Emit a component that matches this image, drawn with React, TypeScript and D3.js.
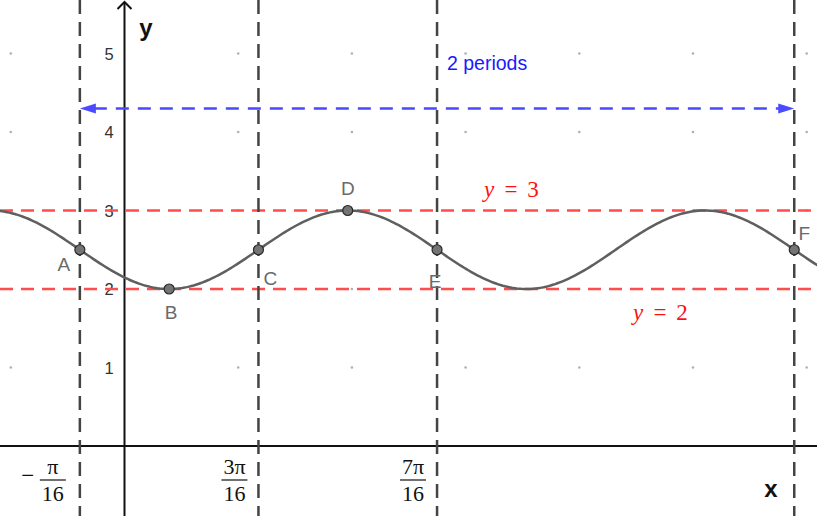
import * as d3 from 'd3'

// key points on the curve, x in multiples of pi/16
const pointNames = ['A', 'B', 'C', 'D', 'E', 'F']
const pointXSixteenths = [-1, 1, 3, 5, 7, 15]
const pointY = [2.5, 2, 2.5, 3, 2.5, 2.5]

// curve y = mid + amp * cos(4 (x - xPeak))
const midline = 2.5
const amplitude = 0.5
const angularFreq = 4
const peakSixteenths = 5

// vertical guides (pi/16 multiples) and their tick labels
const guideSixteenths = [-1, 3, 7, 15]
const tickNumerators = ['π', '3π', '7π']
const tickSigns = ['−', '', '']
const tickSixteenths = [-1, 3, 7]

const yTicks = [1, 2, 3, 4, 5]
const boundLines = [3, 2]
const boundLabelPos: [number, number][] = [[489, 197], [638, 320]]
const gridX = [-0.5, 0.5, 1, 1.5, 2, 2.5, 3]
const gridY = [1, 2, 3, 4, 5]

const W = 817
const H = 516

export default function App() {
  const x = d3.scaleLinear().domain([0, 1]).range([124.5, 124.5 + 227.4])
  const y = d3.scaleLinear().domain([0, 1]).range([446, 446 - 78.5])
  const s16 = (k: number) => (k * Math.PI) / 16

  const xs = d3.range(x.invert(-2), x.invert(W + 2), 0.01)
  const f = (t: number) => midline + amplitude * Math.cos(angularFreq * (t - s16(peakSixteenths)))
  const line = d3.line<number>().x(t => x(t)).y(t => y(f(t)))

  const labelOffsets: [number, number][] = [[-16, 21], [2, 30], [12, 35], [0, -16], [-2, 38], [10, -10]]

  const arrowY = y(4.3)
  const ax1 = x(s16(-1))
  const ax2 = x(s16(15))
  const sans = 'Arial, Liberation Sans, sans-serif'
  const serif = 'Liberation Serif, DejaVu Serif, serif'

  return (
    <svg width={W} height={H} style={{ position: 'absolute', left: 0, top: 0, background: '#fff' }}>
      {/* grid dots */}
      {gridX.map(gx => gridY.map(gy => (
        <circle key={`${gx}-${gy}`} cx={x(gx)} cy={y(gy)} r={1.3} fill="#b0b0b0" />
      )))}

      {/* axes */}
      <line x1={0} x2={W} y1={y(0)} y2={y(0)} stroke="#111" strokeWidth={2} />
      <line x1={x(0)} x2={x(0)} y1={2} y2={H} stroke="#111" strokeWidth={2} />
      <path d={`M${x(0) - 7},${9} L${x(0)},${2} L${x(0) + 7},${9}`} fill="none" stroke="#111" strokeWidth={2} />
      <text x={146} y={36} fontFamily={sans} fontWeight="bold" fontSize={24} textAnchor="middle" fill="#111">y</text>
      <text x={771} y={497} fontFamily={sans} fontWeight="bold" fontSize={24} textAnchor="middle" fill="#111">x</text>

      {yTicks.map(v => (
        <text key={v} x={109} y={y(v) + 6} fontFamily={sans} fontSize={16.5} textAnchor="middle" fill="#333">{v}</text>
      ))}

      {/* x tick fraction labels */}
      {tickSixteenths.map((k, i) => {
        const cx = x(s16(k)) - (k < 0 ? 27 : 24)
        return (
          <g key={k} fontFamily={serif} fill="#111">
            {tickSigns[i] && <text x={cx - 25} y={483} fontSize={23} textAnchor="middle">{tickSigns[i]}</text>}
            <text x={cx} y={474} fontSize={22} textAnchor="middle">{tickNumerators[i]}</text>
            <line x1={cx - 13} x2={cx + 13} y1={480} y2={480} stroke="#111" strokeWidth={1.2} />
            <text x={cx} y={501} fontSize={22} textAnchor="middle">16</text>
          </g>
        )
      })}

      {/* red bound lines */}
      {boundLines.map(v => (
        <line key={v} x1={0} x2={W} y1={y(v)} y2={y(v)} stroke="#ff4d4d" strokeWidth={2.5} strokeDasharray="13 8" />
      ))}
      {boundLines.map((v, i) => {
        const [lx, ly] = boundLabelPos[i]
        return (
          <g key={v} fontFamily={serif} fontSize={23} fill="#ff1010" textAnchor="middle">
            <text x={lx} y={ly} fontStyle="italic">y</text>
            <text x={lx + 22} y={ly}>=</text>
            <text x={lx + 44} y={ly}>{v}</text>
          </g>
        )
      })}

      {/* vertical guides */}
      {guideSixteenths.map(k => (
        <line key={k} x1={x(s16(k))} x2={x(s16(k))} y1={0} y2={H} stroke="#444" strokeWidth={2.5} strokeDasharray="14 8" />
      ))}

      {/* two-period arrow */}
      <line x1={ax1 + 14} x2={ax2 - 14} y1={arrowY} y2={arrowY} stroke="#4a4aff" strokeWidth={2.5} strokeDasharray="13 9" />
      <path d={`M${ax1},${arrowY} L${ax1 + 16},${arrowY - 5} L${ax1 + 16},${arrowY + 5} Z`} fill="#4a4aff" />
      <path d={`M${ax2},${arrowY} L${ax2 - 16},${arrowY - 5} L${ax2 - 16},${arrowY + 5} Z`} fill="#4a4aff" />
      <text x={447} y={70} fontFamily={sans} fontSize={19.5} fill="#1a1aff">2 periods</text>

      {/* curve */}
      <path d={line(xs) ?? ''} fill="none" stroke="#5f5f5f" strokeWidth={2.5} />

      {/* points */}
      {pointNames.map((n, i) => {
        const px = x(s16(pointXSixteenths[i]))
        const py = y(pointY[i])
        return (
          <g key={n}>
            <circle cx={px} cy={py} r={5} fill="#747474" stroke="#2a2a2a" strokeWidth={1.2} />
            <text x={px + labelOffsets[i][0]} y={py + labelOffsets[i][1]} fontFamily={sans} fontSize={19} fill="#6a6a6a" textAnchor="middle">{n}</text>
          </g>
        )
      })}
    </svg>
  )
}
